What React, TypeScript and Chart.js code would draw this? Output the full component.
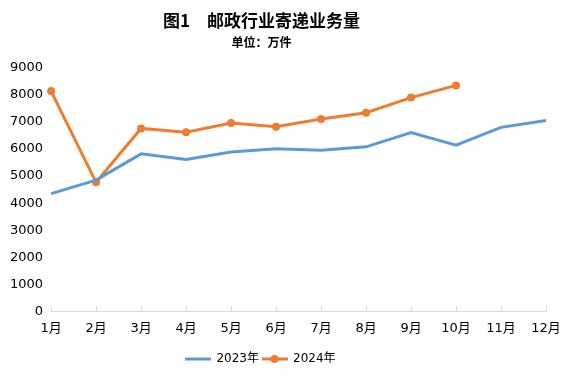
import React, { useEffect, useRef } from "react";
import { Chart, registerables } from "chart.js";

Chart.register(...registerables);

const months = ["1月", "2月", "3月", "4月", "5月", "6月", "7月", "8月", "9月", "10月", "11月", "12月"];
const series2023 = [4350, 4850, 5820, 5610, 5890, 6010, 5950, 6080, 6610, 6140, 6800, 7050];
const series2024 = [8140, 4770, 6760, 6620, 6960, 6820, 7110, 7340, 7900, 8350];
const seriesNames = ["2023年", "2024年"];
const titleText = "图1　邮政行业寄递业务量";
const subtitleText = "单位：万件";

const BLUE = "#5B9BD5";
const ORANGE = "#ED7D31";
const FONT = "'DejaVu Sans', 'Noto Sans CJK SC', sans-serif";
const CJK = "'Noto Sans CJK SC', 'DejaVu Sans', sans-serif";

function legendIcon(color: string, withDot: boolean) {
  const c = document.createElement("canvas");
  c.width = 26;
  c.height = 10;
  const ctx = c.getContext("2d")!;
  ctx.strokeStyle = color;
  ctx.lineWidth = 3;
  ctx.beginPath();
  ctx.moveTo(0, 5);
  ctx.lineTo(26, 5);
  ctx.stroke();
  if (withDot) {
    ctx.fillStyle = color;
    ctx.beginPath();
    ctx.arc(13, 5, 4, 0, Math.PI * 2);
    ctx.fill();
  }
  return c;
}

const shiftPlugin = {
  id: "shiftBlocks",
  afterLayout(chart: any) {
    chart.boxes.forEach((b: any) => {
      if (!("axis" in b)) {
        const d = b.options && b.options.position === "bottom" ? 24 : 23;
        b.left -= d;
        b.right -= d;
      }
    });
  },
};

export default function App() {
  const ref = useRef<HTMLCanvasElement>(null);
  useEffect(() => {
    const icons = [legendIcon(BLUE, false), legendIcon(ORANGE, true)];
    const chart = new Chart(ref.current!, {
      type: "line",
      data: {
        labels: months,
        datasets: [
          {
            label: seriesNames[0],
            data: series2023,
            borderColor: BLUE,
            backgroundColor: BLUE,
            borderWidth: 3,
            pointRadius: 0,
            pointHoverRadius: 0,
            tension: 0,
          },
          {
            label: seriesNames[1],
            data: series2024,
            borderColor: ORANGE,
            backgroundColor: ORANGE,
            borderWidth: 3,
            pointRadius: 4,
            pointBorderWidth: 0,
            pointBackgroundColor: ORANGE,
            tension: 0,
          },
        ],
      },
      options: {
        animation: false,
        responsive: false,
        layout: { padding: { left: 2, right: 0, top: 0, bottom: 3 } },
        plugins: {
          title: {
            display: true,
            text: titleText,
            color: "#000",
            font: { family: CJK, size: 17, weight: "bold" },
            padding: { top: 10, bottom: 0 },
          },
          subtitle: {
            display: true,
            text: subtitleText,
            color: "#000",
            font: { family: CJK, size: 12, weight: "bold" },
            padding: { top: 5, bottom: 18 },
          },
          legend: {
            position: "bottom",
            labels: {
              usePointStyle: true,
              pointStyleWidth: 25,
              color: "#000",
              padding: 3,
              font: { family: FONT, size: 12 },
              generateLabels: (c: any) =>
                c.data.datasets.map((ds: any, i: number) => ({
                  text: ds.label,
                  pointStyle: icons[i],
                  fillStyle: ds.borderColor,
                  strokeStyle: ds.borderColor,
                  lineWidth: 0,
                  datasetIndex: i,
                  hidden: false,
                  fontColor: "#000",
                })),
            },
          },
          tooltip: { enabled: false },
        },
        scales: {
          x: {
            type: "category",
            offset: false,
            grid: { drawOnChartArea: false, color: "#d9d9d9", tickLength: -5 },
            border: { display: true, color: "#d9d9d9", width: 1 },
            ticks: { color: "#000", font: { family: FONT, size: 13 }, padding: 14, maxRotation: 0, autoSkip: false },
            afterFit: (axis: any) => {
              axis.paddingRight = 21;
            },
          },
          y: {
            min: 0,
            max: 9000,
            ticks: {
              stepSize: 1000,
              color: "#000",
              font: { family: FONT, size: 13 },
              padding: 8,
              callback: (v: any) => String(v),
            },
            grid: { display: false, drawTicks: false },
            border: { display: false },
          },
        },
      },
      plugins: [shiftPlugin],
    });
    return () => chart.destroy();
  }, []);
  return (
    <div style={{ position: "absolute", left: 0, top: 0, width: 567, height: 378, background: "#fff" }}>
      <canvas ref={ref} width={567} height={378} />
    </div>
  );
}
